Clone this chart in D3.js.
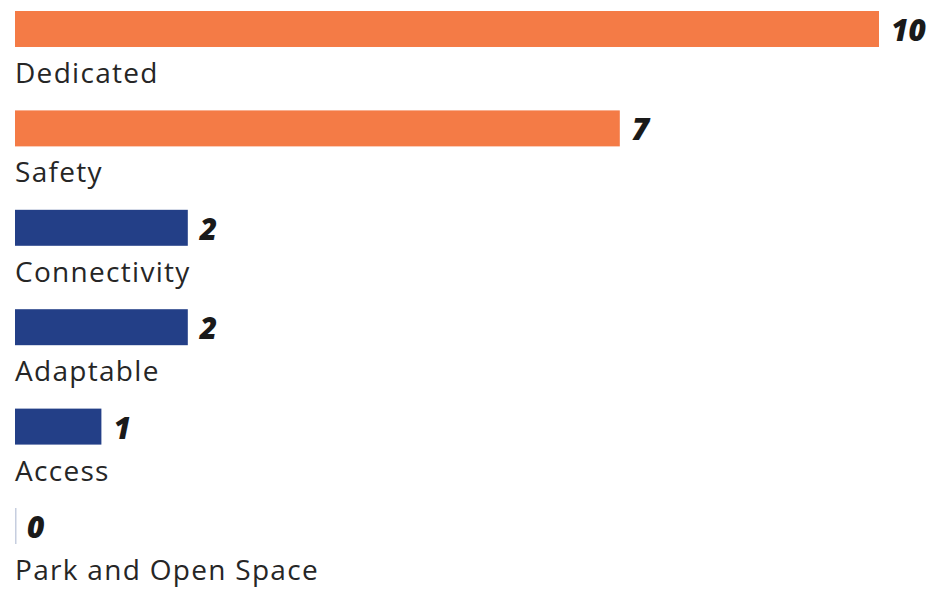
<!DOCTYPE html>
<html><head><meta charset="utf-8">
<script src="https://cdn.jsdelivr.net/npm/d3@7/dist/d3.min.js"></script>
<style>
html,body{margin:0;padding:0;background:#fff;}
svg{display:block;}
</style></head>
<body>
<svg id="chart" width="949" height="589"></svg>
<script>
const categories = ["Dedicated","Safety","Connectivity","Adaptable","Access","Park and Open Space"];
const values = [10,7,2,2,1,0];
const highlight = [true,true,false,false,false,false];

const svg = d3.select("#chart");
const x = d3.scaleLinear().domain([0,10]).range([15,879]);
const y = d3.scaleBand().domain(categories).range([11,544]).paddingInner(0.638).paddingOuter(0);

const rows = svg.selectAll("g.row").data(categories).join("g").attr("class","row");

rows.append("rect")
  .attr("x", x(0))
  .attr("y", d => y(d))
  .attr("width", (d,i) => values[i] === 0 ? 1.5 : x(values[i]) - x(0))
  .attr("height", y.bandwidth())
  .attr("fill", (d,i) => values[i] === 0 ? "#c6cedf" : (highlight[i] ? "#F47B46" : "#233F87"));

rows.append("text")
  .attr("x", (d,i) => x(values[i]) + 12)
  .attr("y", d => y(d) + y.bandwidth()/2 + 12)
  .attr("font-family", "'Open Sans', sans-serif")
  .attr("font-weight", 800)
  .attr("font-style", "italic")
  .attr("font-size", 30)
  .attr("fill", "#1a1a1a")
  .text((d,i) => values[i]);

rows.append("text")
  .attr("x", 15)
  .attr("y", d => y(d) + y.bandwidth() + 36)
  .attr("font-family", "'Open Sans', sans-serif")
  .attr("font-size", 28)
  .attr("letter-spacing", 1.3)
  .attr("fill", "#262626")
  .text(d => d);
</script>
</body></html>
